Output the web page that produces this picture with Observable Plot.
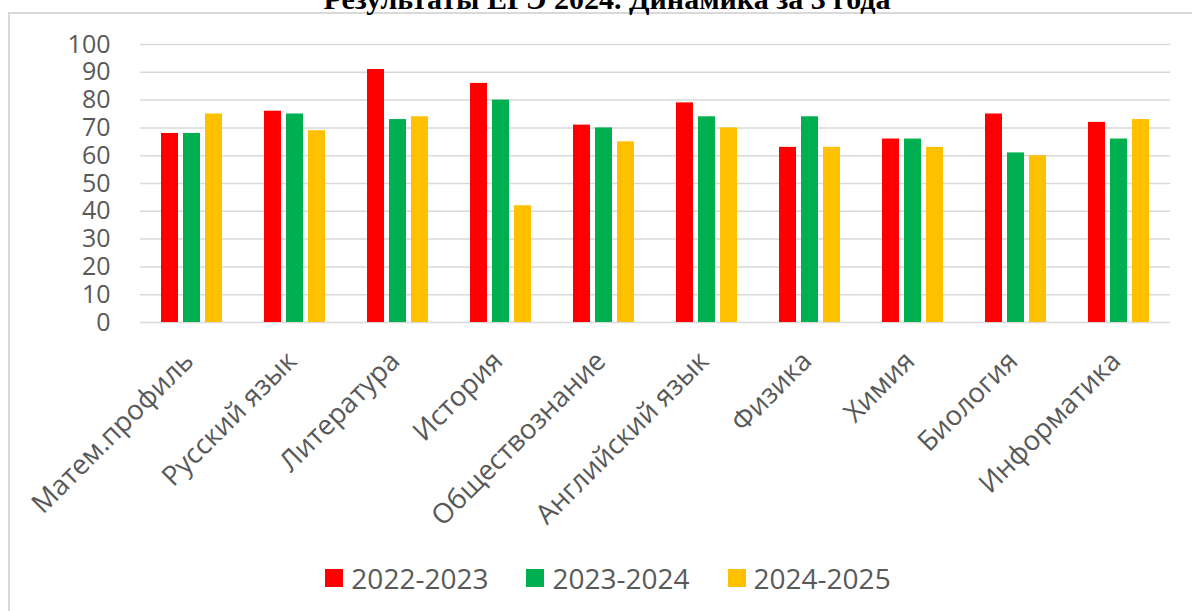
<!DOCTYPE html>
<html>
<head>
<meta charset="utf-8">
<script src="https://cdn.jsdelivr.net/npm/d3@7"></script>
<script src="https://cdn.jsdelivr.net/npm/@observablehq/plot@0.6"></script>
<style>
  html, body { margin: 0; padding: 0; background: #fff; }
  #wrap { position: relative; width: 1192px; height: 611px; overflow: hidden; background: #fff; }
  #frame { position: absolute; left: 8px; top: 12px; right: -10px; bottom: -10px;
           border-left: 2px solid #d9d9d9; border-top: 2px solid #d9d9d9; }
  #title { position: absolute; left: 0; width: 1214px; top: -16px; text-align: center;
           font-family: "Liberation Serif", "Times New Roman", serif; font-weight: bold;
           font-size: 30px; line-height: 30px; color: #000; white-space: nowrap; }
  #chart { position: absolute; left: 0; top: 0; }
  #legend { position: absolute; left: 0; width: 1216px; top: 560px; display: flex; justify-content: center;
            font-family: "Open Sans", sans-serif; font-size: 28px; color: #595959; line-height: 36px; }
  .item { display: flex; align-items: center; margin: 0 19px; }
  .sw { width: 18px; height: 18px; margin-right: 8px; }
</style>
</head>
<body>
<div id="wrap">
  <div id="frame"></div>
  <div id="chart"></div>
  <div id="title">Результаты ЕГЭ 2024. Динамика за 3 года</div>
  <div id="legend"></div>
</div>
<script>
const subjects = ["Матем.профиль", "Русский язык", "Литература", "История", "Обществознание",
                  "Английский язык", "Физика", "Химия", "Биология", "Информатика"];
const years = ["2022-2023", "2023-2024", "2024-2025"];
const scores2022_2023 = [68, 76, 91, 86, 71, 79, 63, 66, 75, 72];
const scores2023_2024 = [68, 75, 73, 80, 70, 74, 74, 66, 61, 66];
const scores2024_2025 = [75, 69, 74, 42, 65, 70, 63, 63, 60, 73];
const colors = ["#ff0000", "#00b050", "#ffc000"];
const yTicks = [0, 10, 20, 30, 40, 50, 60, 70, 80, 90, 100];

const series = [scores2022_2023, scores2023_2024, scores2024_2025];
const data = [];
subjects.forEach((s, i) => years.forEach((y, j) => data.push({subject: s, year: y, value: series[j][i]})));

const chart = Plot.plot({
  width: 1192,
  height: 545,
  marginLeft: 135,
  marginRight: 18,
  marginTop: 44,
  marginBottom: 223,
  style: {fontFamily: "'Open Sans', sans-serif", fontSize: "25px", color: "#595959", background: "transparent", overflow: "visible"},
  fx: {domain: subjects, padding: 0, label: null},
  x: {domain: years, paddingInner: 0.22, paddingOuter: 0.868, axis: null},
  y: {domain: [0, 100], axis: null},
  color: {domain: years, range: colors},
  marks: [
    Plot.ruleY(yTicks, {stroke: "#d9d9d9", strokeWidth: 1.5}),
    Plot.barY(data, {fx: "subject", x: "year", y: "value", fill: "year"}),
    Plot.axisY({ticks: yTicks, tickSize: 0, tickPadding: 30, label: null, fontSize: 25}),
    Plot.axisFx({anchor: "bottom", tickRotate: -45, tickSize: 0, tickPadding: 34, dx: -3, label: null, fontSize: 27.5})
  ]
});
document.getElementById("chart").appendChild(chart);

const legend = document.getElementById("legend");
years.forEach((y, i) => {
  const it = document.createElement("div");
  it.className = "item";
  const sw = document.createElement("div");
  sw.className = "sw";
  sw.style.background = colors[i];
  const t = document.createElement("span");
  t.textContent = y;
  it.appendChild(sw); it.appendChild(t);
  legend.appendChild(it);
});
</script>
</body>
</html>
